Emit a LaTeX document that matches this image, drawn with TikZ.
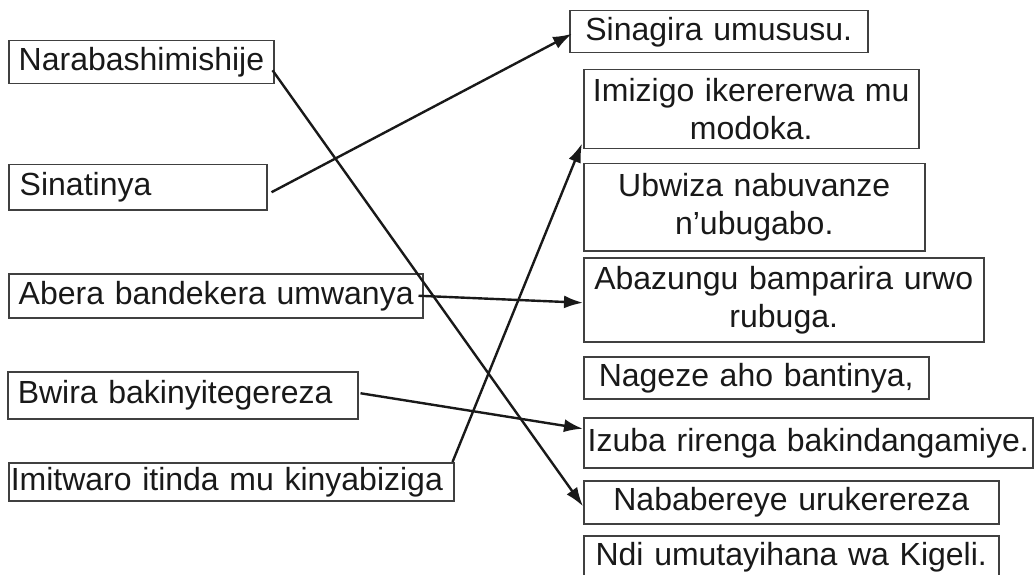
\documentclass[tikz,border=0pt]{standalone}
\usepackage{fontspec}
\setmainfont{Liberation Sans}
\usetikzlibrary{arrows.meta}

\begin{document}
\begin{tikzpicture}[x=1pt, y=-1pt,
    every node/.style={draw=black!75, line width=1.5pt, rectangle, anchor=north west,
      inner ysep=0pt, text=black!90, font=\fontsize{32}{38}\selectfont},
    lcard/.style={align=left, inner xsep=10pt},
    rcard/.style={align=center, inner xsep=0pt},
    link/.style={line width=2.4pt, draw=black!90, -{Latex[length=19pt,width=13pt]}}]
  \useasboundingbox (0,0) rectangle (1034,575);

  % Left column
  \node[lcard, text width=245pt, minimum height=43pt] (nar) at (8,40) {\mbox{Narabashimishije}};
  \node[lcard, inner xsep=11pt, text width=236pt, minimum height=45pt] (sna) at (8,164) {Sinatinya};
  \node[lcard, text width=394pt, minimum height=44pt] (abe) at (8,273) {\mbox{Abera bandekera umwanya}};
  \node[lcard, text width=330pt, minimum height=47pt] (bwi) at (7,371) {\mbox{Bwira bakinyitegereza}};
  \node[lcard, inner xsep=2pt, text width=441pt, minimum height=38pt] (imi) at (8,462) {\mbox{Imitwaro itinda mu kinyabiziga}};

  % Right column
  \node[rcard, text width=298pt, minimum height=42pt] (sng) at (569,10) {Sinagira umususu.};
  \node[rcard, text width=335pt, minimum height=79pt] (imz) at (583,69) {Imizigo ikerererwa mu\\modoka.};
  \node[rcard, text width=341pt, minimum height=87pt] (ubw) at (583,163) {Ubwiza nabuvanze\\n’ubugabo.};
  \node[rcard, text width=400pt, minimum height=84pt] (abz) at (583,257) {Abazungu bamparira urwo\\rubuga.};
  \node[rcard, text width=345pt, minimum height=42pt] (nag) at (583,356) {Nageze aho bantinya,};
  \node[rcard, text width=449pt, minimum height=50pt] (izu) at (583,417) {\mbox{Izuba rirenga bakindangamiye.}};
  \node[rcard, text width=415pt, minimum height=43pt] (nab) at (583,480) {Nababereye urukerereza};
  \node[rcard, text width=415pt, minimum height=43pt] (ndi) at (583,535) {Ndi umutayihana wa Kigeli.};

  % Links
  \draw[link] ([xshift=-2pt,yshift=-8pt]nar.east) -- ([yshift=-4pt]nab.west);
  \draw[link] ([xshift=4pt,yshift=-5pt]sna.east) -- ([xshift=3pt,yshift=-2pt]sng.west);
  \draw[link] ([xshift=-5pt]abe.east) -- ([yshift=-3pt]abz.west);
  \draw[link] ([xshift=2pt,yshift=2pt]bwi.east) -- ([yshift=14pt]izu.west);
  \draw[link] ([xshift=-2pt]imi.north east) -- ([xshift=-1pt,yshift=6pt]imz.south west);
\end{tikzpicture}
\end{document}
